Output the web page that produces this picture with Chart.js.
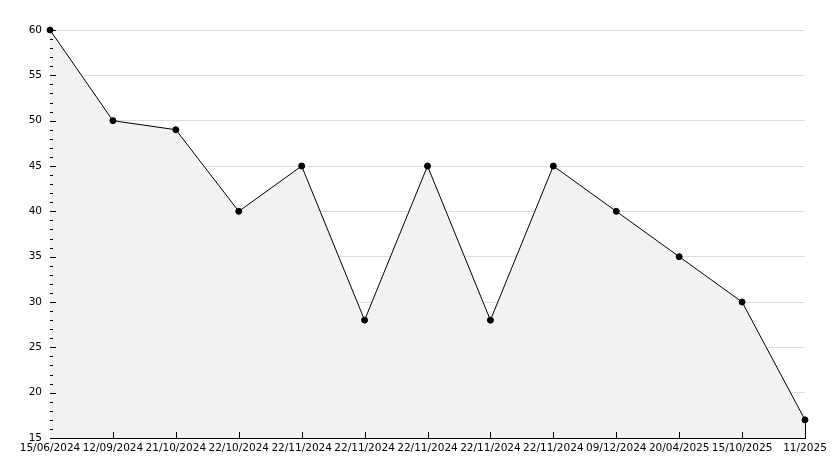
<!DOCTYPE html>
<html>
<head>
<meta charset="utf-8">
<script src="https://cdn.jsdelivr.net/npm/chart.js@4.4.1/dist/chart.umd.min.js"></script>
<style>
  html, body { margin: 0; padding: 0; background: #fff; }
  #wrap { width: 834px; height: 468px; }
</style>
</head>
<body>
<div id="wrap"><canvas id="graph" width="834" height="468"></canvas></div>
<script>
var date_labels = ['15/06/2024', '12/09/2024', '21/10/2024', '22/10/2024', '22/11/2024', '22/11/2024',
    '22/11/2024', '22/11/2024', '22/11/2024', '09/12/2024', '20/04/2025', '15/10/2025', '11/2025'];
var score_data = [60, 50, 49, 40, 45, 28, 45, 28, 45, 40, 35, 30, 17];
var y_min = 15;
var y_max = 60;
var y_step = 5;

// inward tick marks, like the old chart: majors every 5, minors every 1
var tick_marks = {
    id: 'tick_marks',
    afterDatasetsDraw: function(chart){
        var ctx = chart.ctx;
        var area = chart.chartArea;
        var xs = chart.scales.x;
        var ys = chart.scales.y;
        ctx.save();
        ctx.strokeStyle = '#000';
        ctx.lineWidth = 1;
        ctx.beginPath();
        for (var v = y_min; v <= y_max; v++){
            var py = Math.round(ys.getPixelForValue(v)) + 0.5;
            var len = (v % y_step == 0) ? 6 : 3;
            ctx.moveTo(area.left, py);
            ctx.lineTo(area.left + len, py);
        }
        for (var i = 1; i < date_labels.length; i++){
            var px = Math.round(xs.getPixelForValue(i)) + 0.5;
            ctx.moveTo(px, area.bottom);
            ctx.lineTo(px, area.bottom - 6);
        }
        // closing edge of the filled area on the right
        var last = chart.getDatasetMeta(0).data[score_data.length - 1];
        ctx.moveTo(Math.round(last.x) + 0.5, last.y);
        ctx.lineTo(Math.round(last.x) + 0.5, area.bottom);
        ctx.stroke();
        ctx.restore();
    }
};

var chart_context = document.getElementById('graph').getContext('2d');
var chart = new Chart(chart_context, {
    type: 'line',
    data: {
        labels: date_labels,
        datasets: [{
            data: score_data,
            borderColor: '#000',
            borderWidth: 1,
            backgroundColor: '#f2f2f2',
            fill: 'start',
            tension: 0,
            clip: false,
            pointRadius: 3,
            pointBackgroundColor: '#000',
            pointBorderColor: '#000',
            pointBorderWidth: 1
        }]
    },
    options: {
        responsive: false,
        animation: false,
        layout: { padding: { top: 30, right: 29, left: 0, bottom: 0 } },
        plugins: { legend: { display: false }, tooltip: { enabled: false } },
        scales: {
            x: {
                type: 'category',
                offset: false,
                grid: { display: false, drawTicks: false },
                border: { display: true, color: '#000', width: 1 },
                ticks: {
                    color: '#000',
                    font: { family: 'DejaVu Sans', size: 10.5 },
                    autoSkip: false,
                    maxRotation: 0,
                    padding: 4
                },
                afterFit: function(s){ s.height = 30; }
            },
            y: {
                min: y_min,
                max: y_max,
                grid: { color: '#dddddd', drawTicks: false },
                border: { display: true, color: '#000', width: 1 },
                ticks: {
                    stepSize: y_step,
                    color: '#000',
                    font: { family: 'DejaVu Sans', size: 10.5 },
                    padding: 8
                },
                afterFit: function(s){ s.width = 50; }
            }
        }
    },
    plugins: [tick_marks]
});
</script>
</body>
</html>
